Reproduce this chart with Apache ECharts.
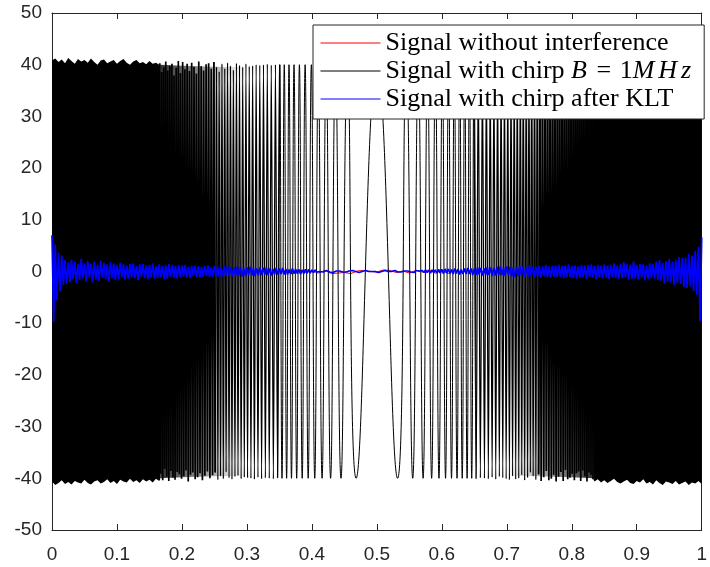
<!DOCTYPE html>
<html>
<head>
<meta charset="utf-8">
<script src="https://cdn.jsdelivr.net/npm/echarts@6/dist/echarts.min.js"></script>
<style>html,body{margin:0;padding:0;background:#fff}#c{width:710px;height:567px}</style>
</head>
<body>
<div id="c"></div>
<script>
// ---------- data ----------
const xTickLabels = ['0','0.1','0.2','0.3','0.4','0.5','0.6','0.7','0.8','0.9','1'];
const yTickLabels = ['-50','-40','-30','-20','-10','0','10','20','30','40','50'];

const seriesNames = ['Signal without interference', 'Signal with chirp B=1MHz', 'Signal with chirp after KLT'];

// chirp extrema (x positions of successive peaks/troughs, resolvable region)
const chirpX = [
0.1658,0.1673,0.1689,0.1704,0.1720,0.1735,0.1751,0.1766,0.1782,0.1798,
0.1814,0.1830,0.1846,0.1862,0.1878,0.1894,0.1911,0.1927,0.1944,0.1960,
0.1977,0.1994,0.2011,0.2028,0.2045,0.2062,0.2080,0.2097,0.2115,0.2132,
0.2150,0.2168,0.2186,0.2204,0.2222,0.2241,0.2259,0.2278,0.2296,0.2315,
0.2334,0.2353,0.2372,0.2392,0.2411,0.2431,0.2451,0.2471,0.2491,0.2511,
0.2532,0.2553,0.2573,0.2594,0.2616,0.2637,0.2659,0.2680,0.2702,0.2725,
0.2747,0.2770,0.2792,0.2816,0.2839,0.2863,0.2886,0.2911,0.2935,0.2960,
0.2985,0.3010,0.3036,0.3062,0.3088,0.3115,0.3142,0.3170,0.3198,0.3226,
0.3255,0.3284,0.3314,0.3344,0.3375,0.3407,0.3439,0.3472,0.3505,0.3540,
0.3575,0.3611,0.3648,0.3686,0.3725,0.3766,0.3808,0.3851,0.3896,0.3943,
0.3992,0.4044,0.4099,0.4157,0.4220,0.4288,0.4363,0.4448,0.4549,0.4681,
0.5000,
0.5319,0.5451,0.5552,0.5637,0.5712,0.5780,0.5843,0.5901,0.5956,0.6008,
0.6057,0.6104,0.6149,0.6192,0.6234,0.6275,0.6314,0.6352,0.6389,0.6425,
0.6460,0.6495,0.6528,0.6561,0.6593,0.6625,0.6656,0.6686,0.6716,0.6745,
0.6774,0.6802,0.6830,0.6858,0.6885,0.6912,0.6938,0.6964,0.6990,0.7015,
0.7040,0.7065,0.7089,0.7114,0.7137,0.7161,0.7184,0.7208,0.7230,0.7253,
0.7275,0.7298,0.7320,0.7341,0.7363,0.7384,0.7406,0.7427,0.7447,0.7468,
0.7489,0.7509,0.7529,0.7549,0.7569,0.7589,0.7608,0.7628,0.7647,0.7666,
0.7685,0.7704,0.7722,0.7741,0.7759,0.7778,0.7796,0.7814,0.7832,0.7850,
0.7868,0.7885,0.7903,0.7920,0.7938,0.7955,0.7972,0.7989,0.8006,0.8023,
0.8040,0.8056,0.8073,0.8089,0.8106,0.8122,0.8138,0.8154,0.8170,0.8186,
0.8202,0.8218,0.8234,0.8249,0.8265,0.8280,0.8296,0.8311,0.8327,0.8342
];
const chirpY = [
40.3,-39.1,38.6,-40.4,39.5,-38.2,40.6,-39.7,38.9,-40.5,
39.8,-38.6,40.2,-39.9,37.9,-40.3,39.4,-38.8,40.7,-39.2,
38.4,-40.1,40.5,-39.6,39.1,-38.5,40.2,-40.6,38.8,-39.3,
40.4,-38.9,39.6,-40.2,38.3,-39.8,40.6,-39.0,39.7,-40.4,
38.9,-39.5,40.1,-38.7,40.3,-40.0,39.2,-39.4,40.5,-38.9,
39.6,-40.3,38.7,-39.6,40.2,-40.1,39.3,-38.8,40.4,-39.9,
39.8,-40.2,39.0,-39.7,40.3,-39.5,39.9,-40.1,39.6,-39.8,
40.2,-39.9,39.7,-40.0,39.8,-40.2,40.0,-39.8,39.9,-40.1,
40.0,-39.9,40.1,-40.0,39.9,-40.1,40.0,-39.9,40.0,-40.0,
40.0,-40.0,40.0,-40.0,40.0,-40.0,40.0,-40.0,40.0,-40.0,
40.0,-40.0,40.0,-40.0,40.0,-40.0,40.0,-40.0,40.0,-40.0,
40.0,-40.0,40.0,-40.0,40.0,-40.0,40.0,-40.0,40.0,-40.0,
40.0,-40.0,40.0,-40.0,40.0,-40.0,40.0,-40.0,40.0,-40.0,
40.0,-40.0,39.9,-40.1,40.0,-39.9,40.1,-40.0,39.9,-40.1,
40.1,-39.8,39.9,-40.2,40.0,-39.7,40.2,-39.9,39.8,-40.1,
39.7,-40.3,40.1,-39.6,39.9,-40.2,39.5,-40.0,40.3,-39.4,
39.8,-40.4,39.3,-39.9,40.5,-38.9,40.1,-39.6,38.8,-40.3,
40.4,-39.2,39.6,-40.5,38.7,-39.8,40.2,-38.6,39.9,-40.4,
38.9,-40.1,40.6,-39.3,39.0,-40.6,38.5,-39.7,40.4,-38.8,
39.5,-40.5,40.2,-38.4,39.9,-40.2,38.6,-39.9,40.7,-39.1,
38.3,-40.4,40.0,-39.0,40.6,-38.7,39.4,-40.5,39.1,-38.5,
40.3,-39.6,38.8,-40.6,39.7,-38.9,40.5,-39.3,38.6,-40.2,
40.4
];

// chirp envelope where oscillations are denser than a pixel (solid black)
const bandLeftX = [0,0.005,0.01,0.015,0.02,0.025,0.03,0.035,0.04,0.045,0.05,0.055,0.06,0.065,0.07,0.075,0.08,0.085,0.09,0.095,0.1,0.105,0.11,0.115,0.12,0.125,0.13,0.135,0.14,0.145,0.15,0.155,0.16,0.165,0.1665];
const bandLeftTop = [40.8,41.2,40.5,41.0,40.3,41.3,40.7,40.2,41.1,40.6,40.9,40.4,41.2,40.5,40.0,40.8,41.0,40.3,40.6,40.9,40.2,40.7,41.1,40.4,40.0,40.6,40.9,40.3,40.5,40.1,40.7,40.2,40.4,40.0,40.3];
const bandLeftBottom = [-40.6,-41.3,-40.9,-40.4,-41.1,-40.7,-41.2,-40.5,-40.8,-41.0,-40.3,-40.9,-41.2,-40.6,-40.4,-41.0,-40.7,-40.2,-40.9,-40.5,-41.1,-40.3,-40.6,-40.8,-40.1,-40.7,-40.4,-40.9,-40.2,-40.6,-40.3,-40.8,-40.1,-40.5,-40.2];
const bandRightX = [0.8335,0.835,0.84,0.845,0.85,0.855,0.86,0.865,0.87,0.875,0.88,0.885,0.89,0.895,0.9,0.905,0.91,0.915,0.92,0.925,0.93,0.935,0.94,0.945,0.95,0.955,0.96,0.965,0.97,0.975,0.98,0.985,0.99,0.995,1.0];
const bandRightTop = [40.2,40.5,40.1,40.7,40.3,40.8,40.4,40.0,40.9,40.6,40.3,41.0,40.5,40.8,40.2,41.1,40.6,40.4,40.9,41.2,40.5,40.8,40.3,41.0,40.7,41.3,40.6,40.9,41.1,40.4,40.8,41.2,40.6,41.0,40.7];
const bandRightBottom = [-40.3,-40.6,-40.2,-40.8,-40.4,-40.9,-40.5,-40.1,-40.7,-41.0,-40.6,-40.3,-40.9,-41.1,-40.5,-40.8,-40.2,-41.0,-40.7,-41.2,-40.4,-40.9,-41.3,-40.6,-40.8,-41.1,-40.5,-41.2,-40.9,-40.6,-41.3,-40.8,-41.0,-40.5,-41.1];

// partly resolved zone (grey moire between the lines), fading towards the centre
const shadeLeftX = [0.1665, 0.2, 0.25, 0.30];
const shadeLeftTop = [40.0, 39.8, 39.6, 39.5];
const shadeLeftBottom = [-40.0, -39.8, -39.6, -39.5];
const shadeRightX = [0.70, 0.75, 0.80, 0.8335];
const shadeRightTop = [39.5, 39.6, 39.8, 40.0];
const shadeRightBottom = [-39.5, -39.6, -39.8, -40.0];

// blue: signal after KLT, sampled every 0.0025
const blueStep = 0.0025;
const blueY = [
7.0,-9.8,5.2,-5.6,3.6,-3.9,3.1,-2.6,2.2,-2.4,
1.8,-2.1,2.3,-1.5,1.9,-2.2,1.4,-1.7,2.5,-1.3,
1.6,-1.9,2.0,-1.2,1.5,-2.1,1.9,-1.6,1.3,-1.8,
2.1,-1.2,1.7,-1.5,1.4,-2.0,1.8,-1.3,1.6,-1.7,
1.3,-1.5,1.7,-1.1,1.4,-1.6,1.2,-1.4,1.5,-1.2,
1.6,-1.3,1.1,-1.7,1.4,-1.0,1.5,-1.3,1.2,-1.5,
1.3,-1.1,1.6,-1.4,1.0,-1.3,1.4,-1.2,1.1,-1.5,
1.2,-1.4,1.5,-1.0,1.3,-1.2,1.1,-1.4,1.3,-1.1,
1.2,-1.0,1.3,-1.2,0.9,-1.3,1.1,-0.9,1.2,-1.1,
1.0,-1.2,0.9,-1.0,1.1,-0.8,1.2,-1.1,0.8,-1.0,
1.1,-0.9,1.0,-1.1,0.8,-1.0,1.2,-0.9,1.0,-0.8,
0.9,-1.0,0.8,-0.9,1.0,-0.8,0.9,-1.0,0.7,-0.9,
0.8,-0.7,0.9,-0.8,0.7,-0.9,0.6,-0.8,0.8,-0.7,
0.7,-0.6,0.8,-0.7,0.6,-0.8,0.5,-0.6,0.7,-0.6,
0.6,-0.5,0.7,-0.6,0.5,-0.6,0.4,-0.5,0.6,-0.4,
0.5,-0.4,0.4,-0.5,0.3,-0.4,0.4,-0.3,0.4,-0.3,
0.3,-0.2,0.3,-0.1,0.2,0.0,0.2,-0.1,0.1,0.2,
0.1,-0.1,0.0,-0.2,0.0,0.1,0.2,0.1,0.0,-0.1,
-0.2,-0.1,0.0,0.1,0.2,0.2,0.1,0.0,-0.1,-0.2,
-0.1,0.0,0.1,0.2,0.1,0.0,-0.1,0.0,0.1,0.0,
-0.1,-0.2,-0.1,0.0,0.1,0.2,0.1,0.0,-0.1,0.0,
0.1,0.2,0.1,-0.1,-0.2,-0.1,0.0,0.1,0.2,0.1,
0.0,-0.1,0.1,-0.2,0.2,-0.1,0.1,-0.2,0.2,-0.2,
0.3,-0.2,0.2,-0.3,0.3,-0.2,0.3,-0.3,0.4,-0.3,
0.4,-0.4,0.5,-0.3,0.5,-0.4,0.4,-0.5,0.6,-0.4,
0.5,-0.6,0.4,-0.5,0.6,-0.5,0.7,-0.5,0.6,-0.7,
0.6,-0.7,0.8,-0.6,0.7,-0.8,0.6,-0.7,0.9,-0.7,
0.8,-0.9,0.7,-0.8,0.9,-0.8,1.0,-0.7,0.8,-0.9,
1.0,-0.8,0.9,-1.0,0.8,-1.1,0.9,-0.9,1.1,-0.8,
1.0,-1.1,0.9,-1.0,1.2,-0.9,1.0,-1.2,0.9,-1.0,
1.1,-1.2,1.0,-0.9,1.3,-1.1,1.0,-1.2,1.1,-1.0,
1.2,-1.1,1.3,-1.0,1.1,-1.3,1.2,-1.0,1.4,-1.1,
1.1,-1.3,1.2,-1.4,1.0,-1.2,1.3,-1.1,1.2,-1.4,
1.3,-1.1,1.4,-1.2,1.1,-1.5,1.3,-1.2,1.2,-1.3,
1.4,-1.2,1.2,-1.5,1.3,-1.1,1.6,-1.3,1.2,-1.4,
1.5,-1.3,1.8,-1.2,1.4,-1.6,1.3,-1.5,1.9,-1.4,
1.3,-1.6,1.5,-1.2,1.4,-1.7,1.2,-1.5,1.6,-1.3,
1.5,-1.4,1.9,-1.6,2.2,-1.8,1.7,-2.3,2.0,-1.9,
2.4,-2.1,1.9,-2.6,2.3,-2.2,2.8,-2.4,2.6,-3.0,
2.7,-3.2,3.4,-2.9,3.1,-3.8,4.0,-4.5,4.8,-9.6,
6.6
];

// red: signal without interference, sampled every 0.01
const redStep = 0.01;
const redY = [
0.3,-0.4,0.2,-0.5,0.4,-0.2,0.5,-0.3,0.1,-0.4,
0.3,-0.5,0.2,-0.3,0.4,-0.1,0.5,-0.4,0.2,-0.3,
0.4,-0.2,0.3,-0.5,0.1,-0.4,0.3,-0.2,0.5,-0.3,
0.2,-0.4,0.3,-0.1,0.4,-0.3,0.2,-0.5,0.3,-0.2,
0.1,-0.3,0.2,-0.4,-0.3,-0.2,-0.4,0.1,0.2,0.0,
-0.1,0.3,0.2,-0.2,0.1,-0.3,0.2,-0.1,0.3,-0.3,
0.2,-0.4,0.3,-0.2,0.4,-0.3,0.1,-0.4,0.3,-0.5,
0.2,-0.3,0.4,-0.2,0.5,-0.4,0.1,-0.3,0.4,-0.2,
0.3,-0.5,0.2,-0.4,0.3,-0.1,0.5,-0.3,0.2,-0.4,
0.4,-0.2,0.3,-0.5,0.1,-0.3,0.4,-0.2,0.3,-0.4,
0.2
];

// ---------- chart ----------
const chart = echarts.init(document.getElementById('c'), null, {renderer: 'canvas'});
const axisColor = '#262626';
const tickFont = {fontFamily: 'Liberation Sans', fontSize: 19, color: axisColor};

const chirpData = chirpX.map((x, i) => [x, chirpY[i]]);
// stroke weight by region, to mimic the reference's dense / moire shading
const chirpDenseL = chirpData.filter(p => p[0] <= 0.2511);
const chirpMidL = chirpData.filter(p => p[0] >= 0.2491 && p[0] <= 0.3505);
const chirpCore = chirpData.filter(p => p[0] >= 0.3472 && p[0] <= 0.6528);
const chirpMidR = chirpData.filter(p => p[0] >= 0.6495 && p[0] <= 0.7509);
const chirpDenseR = chirpData.filter(p => p[0] >= 0.7489);
const blueData = blueY.map((v, i) => [i * blueStep, v]);
const redData = redY.map((v, i) => [i * redStep, v]);
const bands = [
  {x: bandLeftX, top: bandLeftTop, bottom: bandLeftBottom, fill: '#000'},
  {x: bandRightX, top: bandRightTop, bottom: bandRightBottom, fill: '#000'}
];
const shades = [
  {x: shadeLeftX, top: shadeLeftTop, bottom: shadeLeftBottom,
   fill: new echarts.graphic.LinearGradient(0, 0, 1, 0, [
     {offset: 0, color: 'rgba(0,0,0,0.8)'}, {offset: 0.45, color: 'rgba(0,0,0,0.45)'}, {offset: 1, color: 'rgba(0,0,0,0)'}])},
  {x: shadeRightX, top: shadeRightTop, bottom: shadeRightBottom,
   fill: new echarts.graphic.LinearGradient(0, 0, 1, 0, [
     {offset: 0, color: 'rgba(0,0,0,0)'}, {offset: 0.55, color: 'rgba(0,0,0,0.45)'}, {offset: 1, color: 'rgba(0,0,0,0.8)'}])}
];

function polySeries(list, z) {
  return {
    type: 'custom', z: z, silent: true, clip: true,
    data: list.map((b, i) => [i, 0]),
    renderItem: function (params, api) {
      const b = list[params.dataIndex];
      const pts = [];
      for (let k = 0; k < b.x.length; k++) pts.push(api.coord([b.x[k], b.top[k]]));
      for (let k = b.x.length - 1; k >= 0; k--) pts.push(api.coord([b.x[k], b.bottom[k]]));
      return {type: 'polygon', shape: {points: pts}, style: {fill: b.fill}};
    }
  };
}

function xAxisCfg(pos, showLabel) {
  return {
    type: 'value', min: 0, max: 1, interval: 0.1, position: pos,
    axisLine: {show: true, onZero: false, lineStyle: {color: axisColor, width: 1}},
    axisTick: {show: true, inside: true, length: 6, lineStyle: {color: axisColor}},
    axisLabel: Object.assign({show: showLabel, margin: 15,
      formatter: v => xTickLabels[Math.round(v * 10)]}, tickFont),
    splitLine: {show: false}
  };
}
function yAxisCfg(pos, showLabel) {
  return {
    type: 'value', min: -50, max: 50, interval: 10, position: pos,
    axisLine: {show: true, onZero: false, lineStyle: {color: axisColor, width: 1}},
    axisTick: {show: true, inside: true, length: 6, lineStyle: {color: axisColor}},
    axisLabel: Object.assign({show: showLabel, margin: 10,
      formatter: v => yTickLabels[Math.round((v + 50) / 10)]}, tickFont),
    splitLine: {show: false}
  };
}

function chirpSeries(data, width, smooth) {
  return {
    name: seriesNames[1], type: 'line', data: data, showSymbol: false, symbol: 'none',
    smooth: smooth,
    lineStyle: {color: '#000', width: width}, itemStyle: {color: '#000'}, z: 3, silent: true
  };
}

chart.setOption({
  animation: false,
  backgroundColor: '#fff',
  grid: {left: 52, right: 3, top: 13, bottom: 37, containLabel: false},
  xAxis: [xAxisCfg('bottom', true), xAxisCfg('top', false)],
  yAxis: [yAxisCfg('left', true), yAxisCfg('right', false)],
  legend: {
    data: seriesNames,
    orient: 'vertical',
    left: 313, top: 25,
    itemWidth: 60, itemHeight: 20, itemGap: 2,
    padding: [5, 9, 7, 7],
    backgroundColor: '#fff',
    borderColor: axisColor, borderWidth: 1, borderRadius: 0,
    itemStyle: {opacity: 0},
    lineStyle: {width: 1},
    formatter: function (name) {
      if (name === seriesNames[1]) return 'Signal with chirp {b|B} {m|=} 1{h|M}{h|H}{h|z}';
      return name;
    },
    textStyle: {
      fontFamily: 'Liberation Serif', fontSize: 26, color: '#000', lineHeight: 20,
      rich: {
        b: {fontFamily: 'Liberation Serif', fontStyle: 'italic', fontSize: 26, color: '#000', lineHeight: 20, padding: [0, 1, 0, 0]},
        h: {fontFamily: 'Liberation Serif', fontStyle: 'italic', fontSize: 26, color: '#000', lineHeight: 20, padding: [0, 4, 0, 0]},
        m: {fontFamily: 'Liberation Serif', fontSize: 26, color: '#000', lineHeight: 20, padding: [0, 2, 0, 2]}
      }
    }
  },
  series: [
    {
      name: seriesNames[0], type: 'line', data: redData, showSymbol: false, symbol: 'none',
      lineStyle: {color: '#ff0000', width: 1}, itemStyle: {color: '#ff0000'}, z: 2, silent: true
    },
    polySeries(shades, 3),
    chirpSeries(chirpCore, 1.0, 0.5),
    chirpSeries(chirpMidL, 1.25, 0.3),
    chirpSeries(chirpMidR, 1.25, 0.3),
    chirpSeries(chirpDenseL, 1.7, false),
    chirpSeries(chirpDenseR, 1.7, false),
    polySeries(bands, 3),
    {
      name: seriesNames[2], type: 'line', data: blueData, showSymbol: false, symbol: 'none',
      lineStyle: {color: '#0000ff', width: 1.7}, itemStyle: {color: '#0000ff'}, z: 4, silent: true
    }
  ]
});
</script>
</body>
</html>
